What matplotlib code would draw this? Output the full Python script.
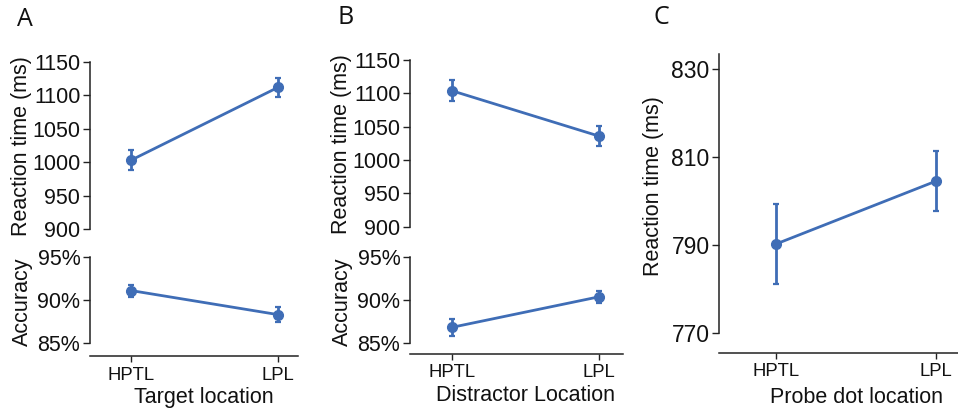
import matplotlib
matplotlib.use("Agg")
import matplotlib.pyplot as plt
from matplotlib.ticker import FuncFormatter

plt.rcParams['font.family'] = ['Liberation Sans', 'DejaVu Sans']

categories = ['HPTL', 'LPL']
a_rt = [1003, 1112]
a_rt_err = [15, 14]
a_acc = [91.1, 88.3]
a_acc_err = [0.7, 0.85]
b_rt = [1104, 1036]
b_rt_err = [16, 15]
b_acc = [86.85, 90.4]
b_acc_err = [0.95, 0.7]
c_rt = [790.3, 804.6]
c_rt_err = [9.2, 6.9]

rt_ticks_ab = [900, 950, 1000, 1050, 1100, 1150]
acc_ticks = [85, 90, 95]
rt_ticks_c = [770, 790, 810, 830]

W, H = 958, 411
COLOR = '#3F6DB6'
SPINE = '#222222'
fig = plt.figure(figsize=(W / 100, H / 100), dpi=100)


def add_ax(x0, x1, ytop, ybot):
    return fig.add_axes([x0 / W, 1 - ybot / H, (x1 - x0) / W, (ybot - ytop) / H])


def style(ax, show_x, xlim, ylim, ticks, ytick_size, xoff=0):
    ax.set_xlim(*xlim)
    ax.set_ylim(*ylim)
    ax.set_yticks(ticks)
    for s in ['top', 'right']:
        ax.spines[s].set_visible(False)
    ax.spines['left'].set_color(SPINE)
    ax.spines['left'].set_linewidth(1.1)
    ax.tick_params(axis='y', length=5, width=1.0, color=SPINE, pad=2,
                   labelsize=ytick_size, labelcolor='#111111')
    if show_x:
        ax.spines['bottom'].set_position(('outward', xoff))
        ax.spines['bottom'].set_color(SPINE)
        ax.spines['bottom'].set_linewidth(1.1)
        ax.set_xticks([0, 1])
        ax.set_xticklabels(categories)
        ax.tick_params(axis='x', length=4.5, width=1.0, color=SPINE, pad=3,
                       labelsize=13.3, labelcolor='#111111')
    else:
        ax.spines['bottom'].set_visible(False)
        ax.set_xticks([])


def draw(ax, vals, errs):
    ax.errorbar(range(len(categories)), vals, yerr=errs, color=COLOR, lw=2.0,
                marker='o', ms=7, capsize=2, elinewidth=2.0, capthick=1.6)


pct = FuncFormatter(lambda v, p: f"{int(v)}%")


def ylab(ax, text, cx, cy):
    ax.set_ylabel(text, fontsize=15.5, va='center', color='#111111')
    ax.yaxis.set_label_coords(cx / W, 1 - cy / H, transform=fig.transFigure)


def xlab(ax, text, cx, cy):
    ax.set_xlabel(text, fontsize=15.5, va='center', color='#111111')
    ax.xaxis.set_label_coords(cx / W, 1 - cy / H, transform=fig.transFigure)


# Panel A
xlimA = (-41 / 147, 1 + 20 / 147)
axA1 = add_ax(90, 298, 62, 229)
draw(axA1, a_rt, a_rt_err)
style(axA1, False, xlimA, (900, 1150), rt_ticks_ab, 15.5)
ylab(axA1, 'Reaction time (ms)', 22, 146)
axA2 = add_ax(90, 298, 257, 343)
draw(axA2, a_acc, a_acc_err)
style(axA2, True, xlimA, (85, 95), acc_ticks, 15.5, xoff=9.5)
axA2.yaxis.set_major_formatter(pct)
ylab(axA2, 'Accuracy', 22, 302)
xlab(axA2, 'Target location', 204, 397)

# Panel B
xlimB = (-41.7 / 147, 1 + 24.3 / 147)
axB1 = add_ax(410, 623, 60, 226.7)
draw(axB1, b_rt, b_rt_err)
style(axB1, False, xlimB, (900, 1150), rt_ticks_ab, 15.5)
ylab(axB1, 'Reaction time (ms)', 342, 144)
axB2 = add_ax(410, 623, 257.3, 343.3)
draw(axB2, b_acc, b_acc_err)
style(axB2, True, xlimB, (85, 95), acc_ticks, 15.5, xoff=7.7)
axB2.yaxis.set_major_formatter(pct)
ylab(axB2, 'Accuracy', 342, 302)
xlab(axB2, 'Distractor Location', 525, 395)

# Panel C
xlimC = (-56.7 / 160, 1 + 22 / 160)
axC = add_ax(719.3, 958, 54, 333.3)
draw(axC, c_rt, c_rt_err)
style(axC, True, xlimC, (770, 833.5), rt_ticks_c, 16.5, xoff=14)
ylab(axC, 'Reaction time (ms)', 654, 186)
xlab(axC, 'Probe dot location', 856, 397)

# Panel letters
for letter, cx, cy in [('A', 24.5, 19), ('B', 346, 17), ('C', 661, 17)]:
    fig.text(cx / W, 1 - cy / H, letter, fontsize=18, ha='center', va='center',
             family=['Open Sans', 'DejaVu Sans'], color='#111111')

fig.savefig('out.png', dpi=100)
